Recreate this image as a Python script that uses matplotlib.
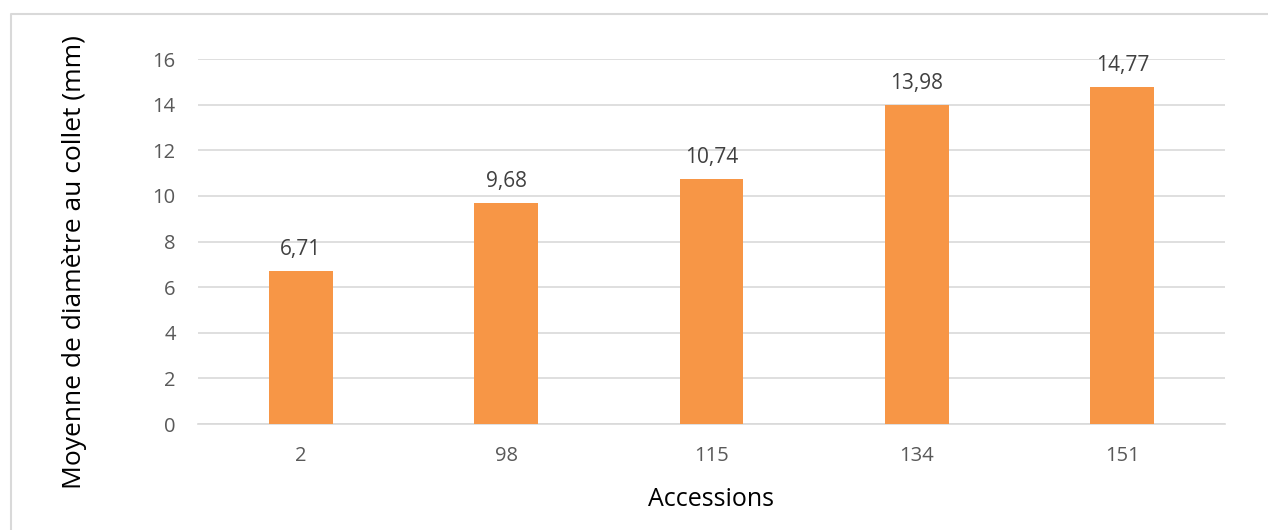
import matplotlib.pyplot as plt
from matplotlib.lines import Line2D
import numpy as np

accessions = ["2", "98", "115", "134", "151"]
diametre = [6.71, 9.68, 10.74, 13.98, 14.77]
y_ticks = [0, 2, 4, 6, 8, 10, 12, 14, 16]

plt.rcParams["font.family"] = ["Open Sans", "DejaVu Sans"]

fig = plt.figure(figsize=(12.68, 5.30), dpi=100)
# chart frame: only the top and left edges show in the picture
bx, by = 10.5 / 1268, 1 - 13.5 / 530
fig.add_artist(Line2D([bx, bx, 1], [0, by, by], transform=fig.transFigure,
                      color="#D9D9D9", linewidth=1.5))

ax = fig.add_axes([198 / 1268, 106 / 530, 1027 / 1268, 365 / 530])
x = np.arange(len(accessions))
bars = ax.bar(x, diametre, width=0.31, color="#F79646", zorder=3)

for rect, val in zip(bars, diametre):
    ax.annotate(f"{val:.2f}".replace(".", ","),
                (rect.get_x() + rect.get_width() / 2, val),
                xytext=(0, 8), textcoords="offset points",
                ha="center", va="bottom", fontsize=15, color="#404040")

ax.set_xlim(-0.5, len(accessions) - 0.5)
ax.set_ylim(0, 16)
ax.set_xticks(x)
ax.set_xticklabels(accessions)
ax.set_yticks(y_ticks)
ax.tick_params(axis="both", length=0, labelsize=14.5, labelcolor="#595959")
ax.tick_params(axis="x", pad=16)
ax.tick_params(axis="y", pad=16)
ax.grid(axis="y", color="#D9D9D9", linewidth=1.2, zorder=0)
for side in ["top", "right", "left"]:
    ax.spines[side].set_visible(False)
ax.spines["bottom"].set_color("#D9D9D9")
ax.spines["bottom"].set_linewidth(1.2)

ax.set_xlabel("Accessions", fontsize=18, color="#000000", labelpad=15)
ax.set_ylabel("Moyenne de diamètre au collet (mm)", fontsize=19, color="#000000")
ax.yaxis.set_label_coords(-0.108, 0.444)

fig.savefig("out.png", dpi=100)
